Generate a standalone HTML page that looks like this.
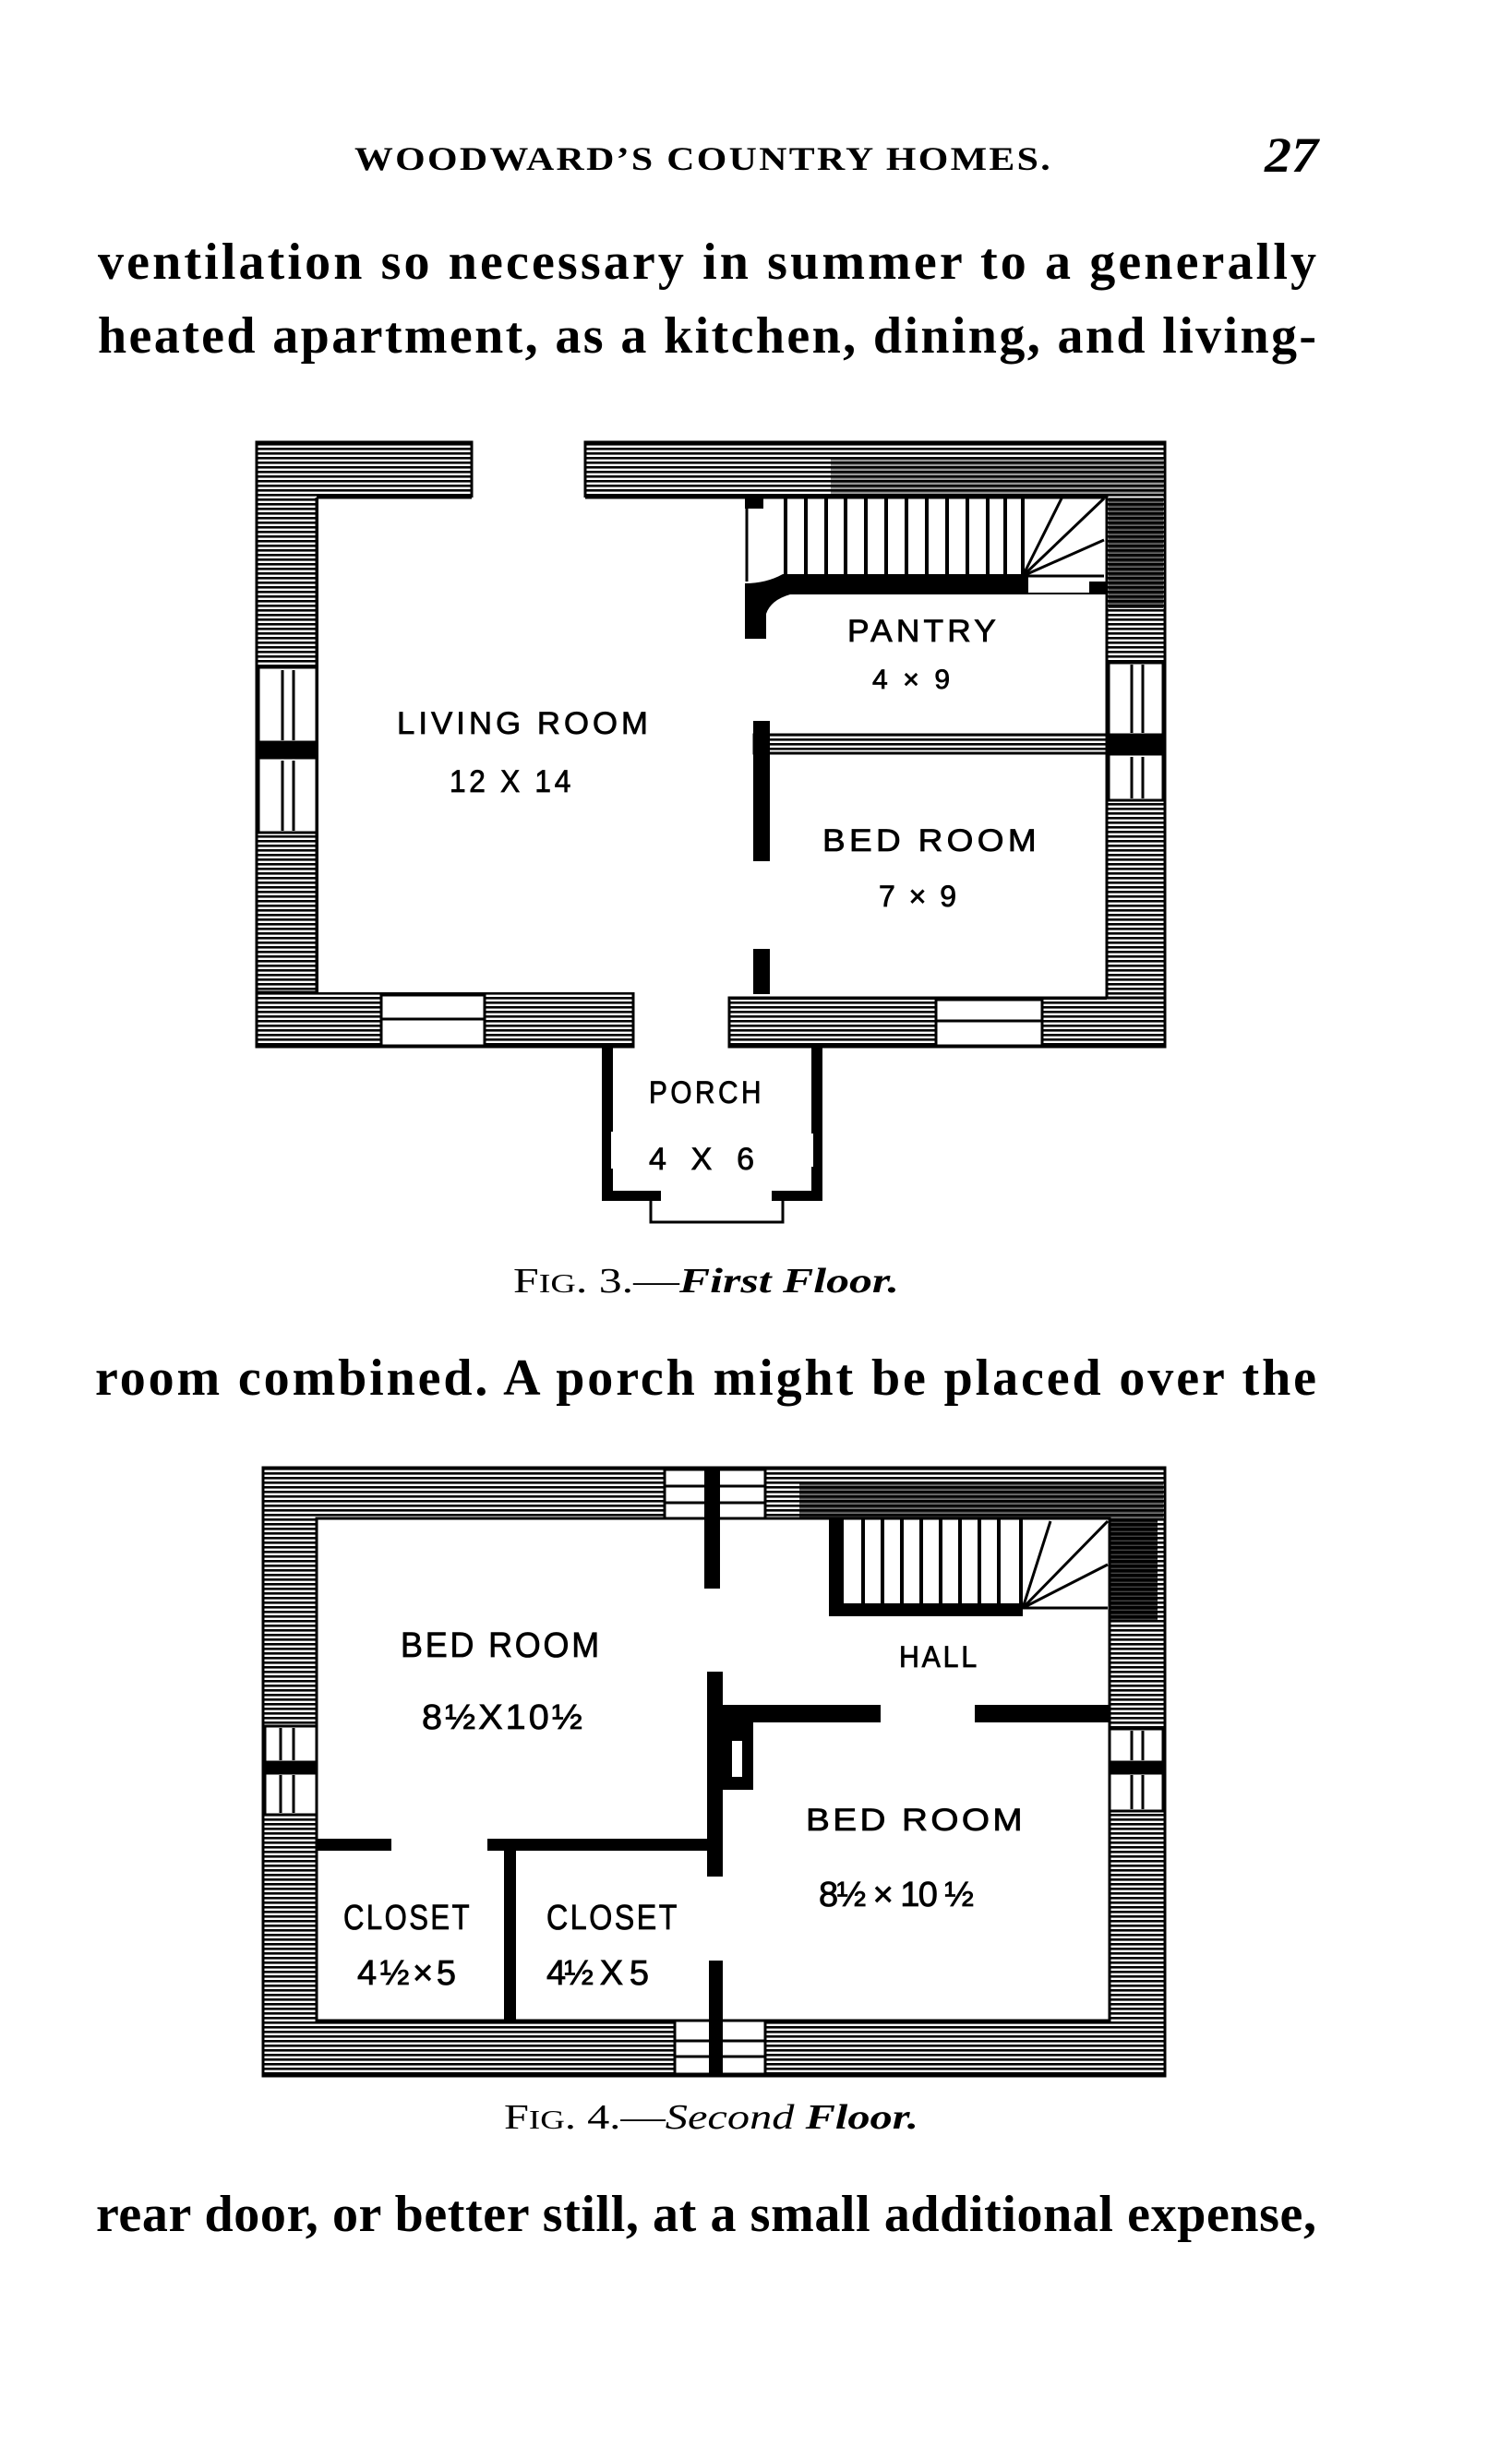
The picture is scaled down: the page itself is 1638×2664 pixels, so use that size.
<!DOCTYPE html>
<html><head><meta charset="utf-8"><style>
html,body{margin:0;padding:0;background:#fff;}
svg{display:block;}
.t{font-family:"Liberation Serif",serif;fill:#000;}
.b{font-weight:bold;}
.l{font-family:"Liberation Sans",sans-serif;fill:#000;stroke:#000;stroke-width:0.8;}
</style></head><body>
<svg width="1638" height="2664" viewBox="0 0 1638 2664" xmlns="http://www.w3.org/2000/svg">
<defs>
<pattern id="h" width="8" height="5" patternUnits="userSpaceOnUse">
<rect width="8" height="5" fill="#fff"/><rect width="8" height="2.6" fill="#000"/>
</pattern>
<pattern id="hd" width="8" height="5" patternUnits="userSpaceOnUse">
<rect width="8" height="5" fill="#444"/><rect width="8" height="3.6" fill="#000"/>
</pattern>
</defs>
<rect width="1638" height="2664" fill="#fff"/>

<!-- header -->
<text class="t b" x="384" y="184" font-size="36" textLength="756" lengthAdjust="spacingAndGlyphs" letter-spacing="2">WOODWARD’S COUNTRY HOMES.</text>
<text class="t" x="1370" y="186" font-size="54" font-weight="bold" font-style="italic" textLength="58" lengthAdjust="spacingAndGlyphs">27</text>

<text class="t b" x="106" y="302" font-size="56" textLength="1320" lengthAdjust="spacing">ventilation so necessary in summer to a generally</text>
<text class="t b" x="106" y="382" font-size="56" textLength="1320" lengthAdjust="spacing">heated apartment, as a kitchen, dining, and living-</text>

<!-- FIRST FLOOR -->
<g stroke="#000" stroke-width="3">
<rect x="278" y="479" width="233" height="60" fill="url(#h)"/>
<rect x="634" y="479" width="628" height="60" fill="url(#h)"/>
<rect x="278" y="479" width="67" height="655" fill="url(#h)"/>
<rect x="1199" y="479" width="63" height="655" fill="url(#h)"/>
<rect x="278" y="1075" width="408" height="59" fill="url(#h)"/>
<rect x="790" y="1081" width="472" height="53" fill="url(#h)"/>
</g>
<rect x="280" y="481" width="229" height="56" fill="url(#h)"/>
<rect x="280" y="481" width="63" height="592" fill="url(#h)"/>
<rect x="636" y="481" width="624" height="56" fill="url(#h)"/>
<rect x="1201" y="481" width="59" height="598" fill="url(#h)"/>
<rect x="345" y="539" width="854" height="536" fill="#fff"/>
<rect x="792" y="1081" width="407" height="2" fill="#000"/>
<rect x="900" y="495" width="360" height="40" fill="url(#hd)" opacity="0.5"/>
<rect x="1201" y="539" width="59" height="120" fill="url(#hd)" opacity="0.8"/>
<path d="M343 539 V1075 M343 539 H511 M634 539 H1199 V1081" stroke="#000" stroke-width="3" fill="none"/>
<g stroke="#000" stroke-width="3" fill="#fff">
<rect x="280" y="723" width="63" height="81"/>
<rect x="280" y="821" width="63" height="81"/>
<rect x="1201" y="718" width="59" height="78"/>
<rect x="1201" y="817" width="59" height="50"/>
<rect x="413" y="1078" width="112" height="55"/>
<rect x="1014" y="1083" width="115" height="50"/>
</g>
<rect x="279" y="804" width="66" height="17" fill="#000"/>
<rect x="1199" y="796" width="63" height="21" fill="#000"/>
<g stroke="#000" stroke-width="3">
<line x1="306" y1="726" x2="306" y2="802"/><line x1="318" y1="726" x2="318" y2="802"/>
<line x1="306" y1="824" x2="306" y2="900"/><line x1="318" y1="824" x2="318" y2="900"/>
<line x1="1226" y1="720" x2="1226" y2="794"/><line x1="1238" y1="720" x2="1238" y2="794"/>
<line x1="1226" y1="820" x2="1226" y2="865"/><line x1="1238" y1="820" x2="1238" y2="865"/>
<line x1="413" y1="1104" x2="525" y2="1104"/>
<line x1="1014" y1="1106" x2="1129" y2="1106"/>
</g>
<g stroke="#000">
<rect x="807" y="539" width="20" height="12" fill="#000" stroke="none"/>
<g stroke-width="4">
<line x1="851" y1="540" x2="851" y2="622"/><line x1="873" y1="540" x2="873" y2="622"/>
<line x1="895" y1="540" x2="895" y2="622"/><line x1="916" y1="540" x2="916" y2="622"/>
<line x1="938" y1="540" x2="938" y2="622"/><line x1="960" y1="540" x2="960" y2="622"/>
<line x1="982" y1="540" x2="982" y2="622"/><line x1="1004" y1="540" x2="1004" y2="622"/>
<line x1="1026" y1="540" x2="1026" y2="622"/><line x1="1048" y1="540" x2="1048" y2="622"/>
<line x1="1070" y1="540" x2="1070" y2="622"/><line x1="1089" y1="540" x2="1089" y2="622"/>
<line x1="1108" y1="540" x2="1108" y2="624"/>
</g>
<g stroke-width="3">
<line x1="1108" y1="624" x2="1150" y2="540"/>
<line x1="1108" y1="624" x2="1196" y2="540"/>
<line x1="1108" y1="624" x2="1196" y2="585"/>
<line x1="1108" y1="624" x2="1196" y2="624"/>
<line x1="809" y1="540" x2="809" y2="630"/>
</g>
</g>
<path d="M807 632 Q830 632 848 622 H1114 V642 H1180 V630 H1199 V644 H856 Q835 650 830 665 V692 H807 Z" fill="#000"/>
<rect x="817" y="796" width="382" height="20" fill="url(#h)" stroke="#000" stroke-width="3"/>
<rect x="816" y="781" width="18" height="152" fill="#000"/>
<rect x="816" y="1028" width="18" height="49" fill="#000"/>
<rect x="652" y="1134" width="12" height="167" fill="#000"/>
<rect x="879" y="1134" width="12" height="167" fill="#000"/>
<rect x="652" y="1290" width="64" height="11" fill="#000"/>
<rect x="836" y="1290" width="55" height="11" fill="#000"/>
<path d="M705 1301 V1324 H848 V1301" fill="none" stroke="#000" stroke-width="3"/>
<rect x="662" y="1226" width="4" height="40" fill="#fff"/>
<rect x="877" y="1228" width="4" height="36" fill="#fff"/>

<g class="l" font-size="34" letter-spacing="4">
<text x="430" y="795" textLength="276" lengthAdjust="spacingAndGlyphs">LIVING  ROOM</text>
<text x="487" y="858" textLength="135" lengthAdjust="spacingAndGlyphs">12 X 14</text>
<text x="918" y="695" textLength="165" lengthAdjust="spacingAndGlyphs">PANTRY</text>
<text x="945" y="746" font-size="30" textLength="88" lengthAdjust="spacing">4 × 9</text>
<text x="891" y="922" textLength="236" lengthAdjust="spacingAndGlyphs">BED ROOM</text>
<text x="952" y="982" font-size="32" textLength="88" lengthAdjust="spacing">7 × 9</text>
<text x="703" y="1195" textLength="125" lengthAdjust="spacingAndGlyphs">PORCH</text>
<text x="703" y="1267" textLength="118" lengthAdjust="spacing">4 X 6</text>
</g>

<text class="t" x="556" y="1400" font-size="38" textLength="418" lengthAdjust="spacingAndGlyphs">F<tspan font-size="29">IG</tspan>. 3.—<tspan font-style="italic" font-weight="bold">First  Floor.</tspan></text>

<text class="t b" x="103" y="1511" font-size="56" textLength="1323" lengthAdjust="spacing">room combined.  A porch might be placed over the</text>

<!-- SECOND FLOOR -->
<rect x="285" y="1590" width="977" height="659" fill="url(#h)" stroke="#000" stroke-width="3"/>
<rect x="866" y="1605" width="394" height="40" fill="url(#hd)" opacity="0.75"/>
<rect x="1202" y="1645" width="52" height="110" fill="url(#hd)"/>
<rect x="343" y="1645" width="859" height="544" fill="#fff" stroke="#000" stroke-width="3"/>
<g stroke="#000" stroke-width="3" fill="#fff">
<rect x="720" y="1592" width="109" height="53"/>
<rect x="731" y="2189" width="98" height="58"/>
<rect x="287" y="1870" width="56" height="39"/>
<rect x="287" y="1921" width="56" height="45"/>
<rect x="1202" y="1873" width="58" height="36"/>
<rect x="1202" y="1921" width="58" height="41"/>
<line x1="720" y1="1610" x2="829" y2="1610"/><line x1="720" y1="1628" x2="829" y2="1628"/>
<line x1="731" y1="2211" x2="829" y2="2211"/><line x1="731" y1="2228" x2="829" y2="2228"/>
<line x1="304" y1="1872" x2="304" y2="1907"/><line x1="318" y1="1872" x2="318" y2="1907"/>
<line x1="304" y1="1923" x2="304" y2="1964"/><line x1="318" y1="1923" x2="318" y2="1964"/>
<line x1="1226" y1="1875" x2="1226" y2="1907"/><line x1="1238" y1="1875" x2="1238" y2="1907"/>
<line x1="1226" y1="1923" x2="1226" y2="1960"/><line x1="1238" y1="1923" x2="1238" y2="1960"/>
</g>
<rect x="285" y="1909" width="58" height="12" fill="#000"/>
<rect x="1202" y="1909" width="60" height="12" fill="#000"/>
<rect x="763" y="1592" width="17" height="129" fill="#000"/>
<rect x="768" y="2124" width="15" height="124" fill="#000"/>
<rect x="898" y="1646" width="16" height="105" fill="#000"/>
<rect x="898" y="1737" width="210" height="14" fill="#000"/>
<g stroke="#000" stroke-width="4">
<line x1="935" y1="1646" x2="935" y2="1737"/><line x1="956" y1="1646" x2="956" y2="1737"/>
<line x1="977" y1="1646" x2="977" y2="1737"/><line x1="998" y1="1646" x2="998" y2="1737"/>
<line x1="1019" y1="1646" x2="1019" y2="1737"/><line x1="1040" y1="1646" x2="1040" y2="1737"/>
<line x1="1061" y1="1646" x2="1061" y2="1737"/><line x1="1082" y1="1646" x2="1082" y2="1737"/>
<line x1="1106" y1="1646" x2="1106" y2="1740"/>
</g>
<g stroke="#000" stroke-width="3">
<line x1="1108" y1="1742" x2="1138" y2="1648"/>
<line x1="1108" y1="1742" x2="1200" y2="1648"/>
<line x1="1108" y1="1742" x2="1200" y2="1695"/>
<line x1="1108" y1="1742" x2="1200" y2="1742"/>
</g>
<rect x="766" y="1811" width="17" height="222" fill="#000"/>
<rect x="783" y="1847" width="171" height="19" fill="#000"/>
<rect x="1056" y="1847" width="146" height="19" fill="#000"/>
<rect x="783" y="1866" width="33" height="73" fill="#000"/>
<rect x="793" y="1886" width="11" height="39" fill="#fff"/>
<rect x="343" y="1992" width="81" height="13" fill="#000"/>
<rect x="528" y="1992" width="255" height="13" fill="#000"/>
<rect x="546" y="2005" width="13" height="184" fill="#000"/>

<g class="l" font-size="38" letter-spacing="3">
<text x="434" y="1795" textLength="218" lengthAdjust="spacingAndGlyphs">BED ROOM</text>
<text x="457" y="1873" textLength="177" lengthAdjust="spacingAndGlyphs">8½X10½</text>
<text x="974" y="1806" font-size="32" textLength="87" lengthAdjust="spacingAndGlyphs">HALL</text>
<text x="873" y="1983" font-size="34" textLength="238" lengthAdjust="spacingAndGlyphs">BED  ROOM</text>
<text x="887" y="2065" textLength="171" lengthAdjust="spacing">8½ × 10 ½</text>
<text x="372" y="2090" textLength="139" lengthAdjust="spacingAndGlyphs">CLOSET</text>
<text x="387" y="2150" textLength="110" lengthAdjust="spacing">4½×5</text>
<text x="592" y="2090" textLength="144" lengthAdjust="spacingAndGlyphs">CLOSET</text>
<text x="592" y="2150" textLength="114" lengthAdjust="spacing">4½ X 5</text>
</g>

<text class="t" x="546" y="2306" font-size="38" textLength="449" lengthAdjust="spacingAndGlyphs">F<tspan font-size="29">IG</tspan>. 4.—<tspan font-style="italic">Second</tspan> <tspan font-style="italic" font-weight="bold">Floor.</tspan></text>

<text class="t b" x="104" y="2417" font-size="56" textLength="1322" lengthAdjust="spacing">rear door, or better still, at a small additional expense,</text>
</svg>
</body></html>
